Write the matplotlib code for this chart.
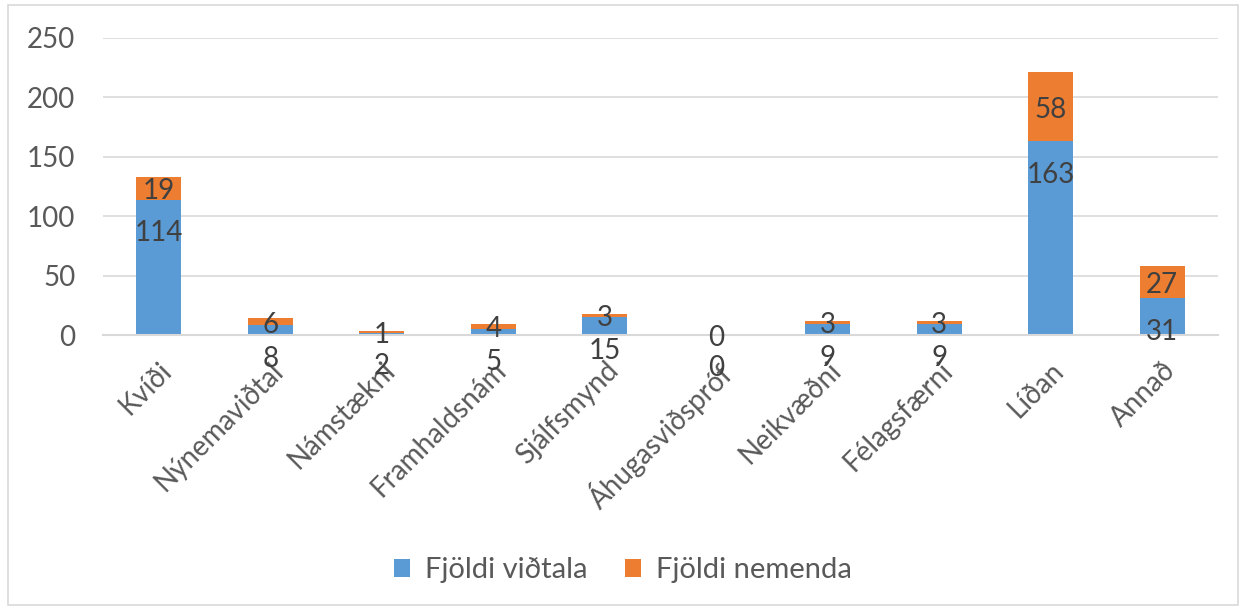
import matplotlib.pyplot as plt
from matplotlib.patches import Rectangle

categories = ['Kvíði', 'Nýnemaviðtal', 'Námstækni', 'Framhaldsnám', 'Sjálfsmynd',
              'Áhugasviðspróf', 'Neikvæðni', 'Félagsfærni', 'Líðan', 'Annað']
vidtala = [114, 8, 2, 5, 15, 0, 9, 9, 163, 31]
nemenda = [19, 6, 1, 4, 3, 0, 3, 3, 58, 27]

blue = '#5B9BD5'
orange = '#ED7D31'
plt.rcParams['font.family'] = ['Lato', 'DejaVu Sans']

fig = plt.figure(figsize=(12.46, 6.09), dpi=100)
ax = fig.add_axes([103 / 1246, 1 - 335 / 609, 1115 / 1246, 297 / 609])

x = list(range(len(categories)))
ax.bar(x, vidtala, width=0.4, color=blue, label='Fjöldi viðtala', zorder=2)
ax.bar(x, nemenda, width=0.4, bottom=vidtala, color=orange, label='Fjöldi nemenda', zorder=2)

# data labels, blue ones sit a bit under the top of the blue part
for i in x:
    ax.annotate(str(vidtala[i]), (i, vidtala[i]), xytext=(0, -24), textcoords='offset points',
                ha='center', va='center', fontsize=20, color='#404040', zorder=3)
    ax.annotate(str(nemenda[i]), (i, vidtala[i] + nemenda[i] / 2), xytext=(0, -2),
                textcoords='offset points', ha='center', va='center', fontsize=20,
                color='#404040', zorder=3)

ax.set_xlim(-0.5, len(categories) - 0.5)
ax.set_ylim(0, 250)
ax.set_yticks([0, 50, 100, 150, 200, 250])
ax.yaxis.grid(True, color='#D9D9D9', linewidth=1.2, zorder=0)
for s in ['top', 'right', 'left']:
    ax.spines[s].set_visible(False)
ax.spines['bottom'].set_color('#D9D9D9')
ax.spines['bottom'].set_linewidth(1.5)
ax.tick_params(axis='both', length=0, labelsize=20, labelcolor='#595959')
ax.tick_params(axis='y', pad=20)
ax.set_xticks(x)
ax.set_xticklabels(categories, rotation=45, ha='right', rotation_mode='anchor')
ax.tick_params(axis='x', pad=16)

ax.legend(loc='center', bbox_to_anchor=(0.5, 1 - 570 / 609), bbox_transform=fig.transFigure,
          ncol=2, frameon=False, fontsize=21, labelcolor='#595959', handlelength=0.55,
          handleheight=0.55, columnspacing=1.3, handletextpad=0.5)

fig.patches.append(Rectangle((8 / 1246, 4 / 609), 1230 / 1246, 600 / 609, transform=fig.transFigure,
                             fill=False, edgecolor='#D9D9D9', linewidth=1.2))

plt.savefig('out.png', dpi=100)
